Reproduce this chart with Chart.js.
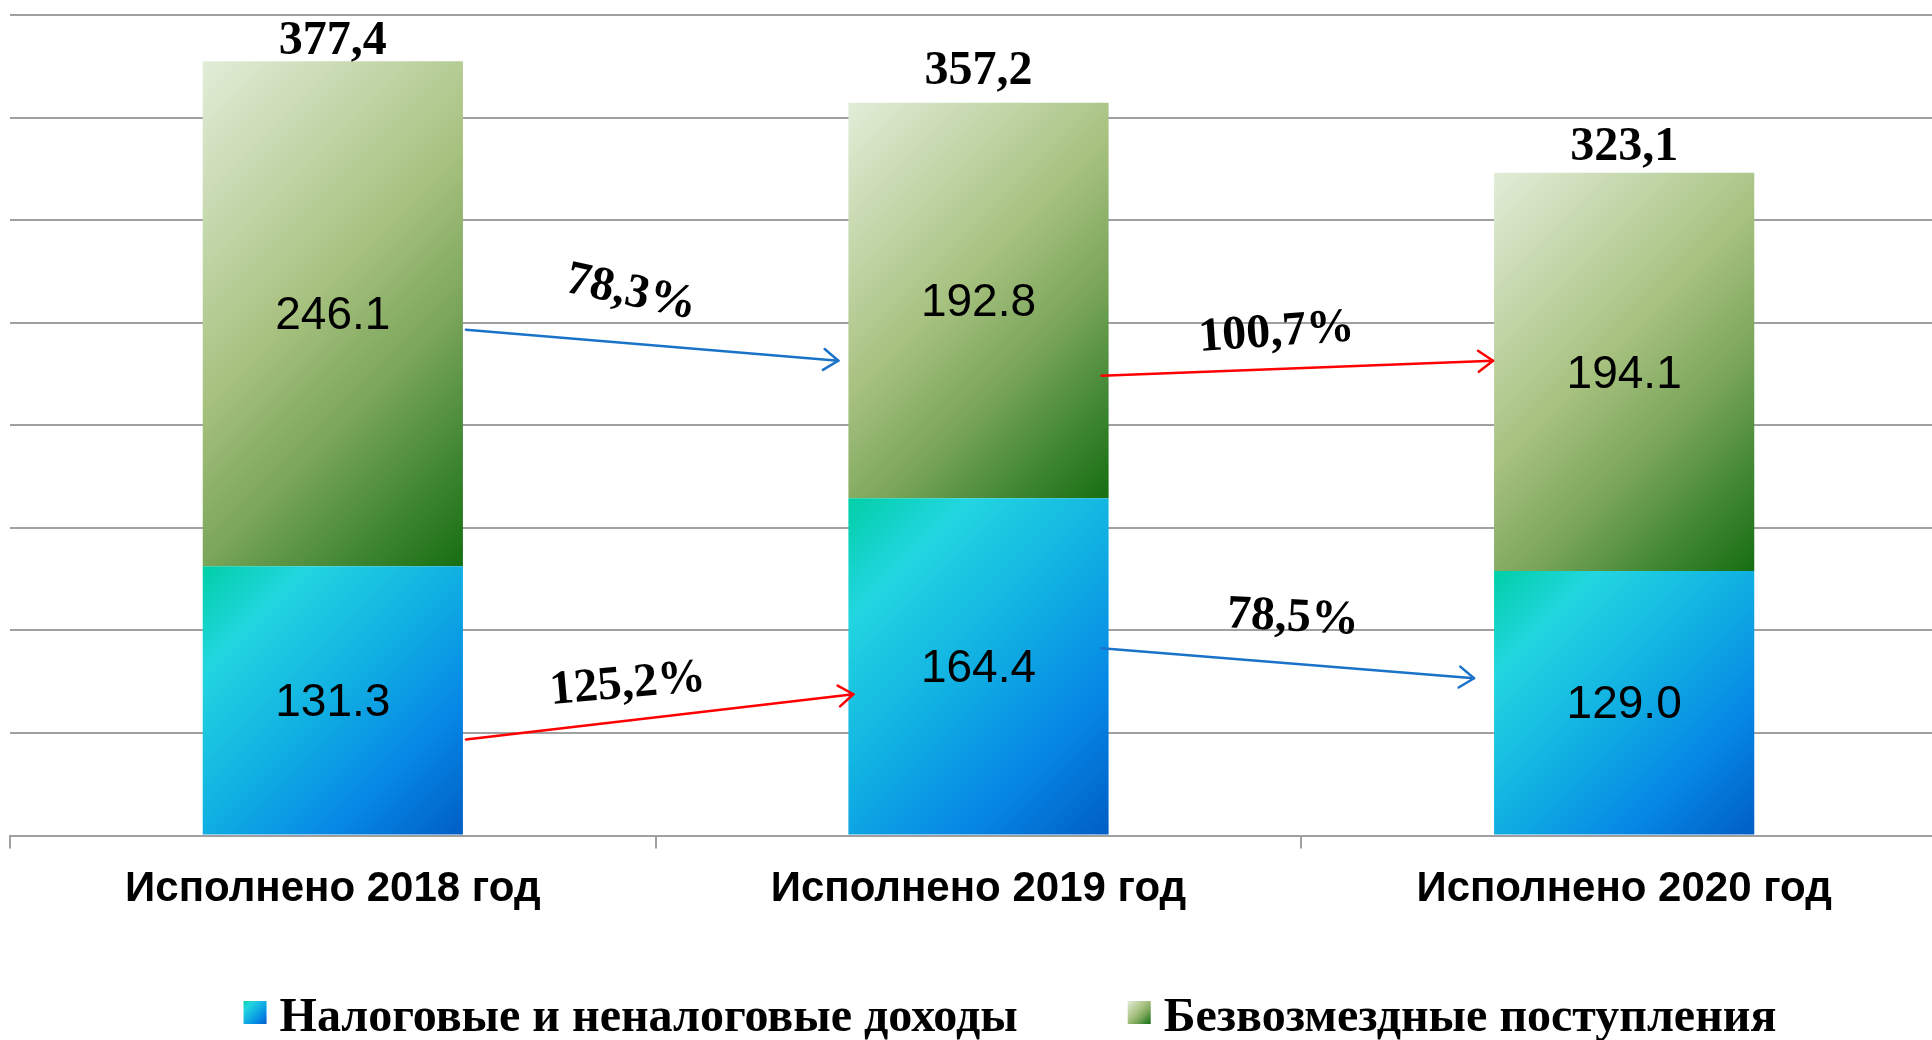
<!DOCTYPE html>
<html>
<head>
<meta charset="utf-8">
<script src="https://cdn.jsdelivr.net/npm/chart.js@4.4.1/dist/chart.umd.min.js"></script>
<style>
  html, body { margin: 0; padding: 0; background: #ffffff; overflow: hidden; }
  #wrap { width: 1947px; height: 1040px; position: relative; }
</style>
</head>
<body>
<div id="wrap"><canvas id="chart"></canvas></div>
<script>
// ---------------- DATA ----------------
const categories = ['Исполнено 2018 год', 'Исполнено 2019 год', 'Исполнено 2020 год'];
const seriesNames = ['Налоговые и неналоговые доходы', 'Безвозмездные поступления'];
const taxRevenue = [131.3, 164.4, 129.0];
const grants = [246.1, 192.8, 194.1];
const totals = [377.4, 357.2, 323.1];
const yMax = 400;
const yStep = 50;
// growth arrows between bars: label, starting bar, value at start, value at end
const growthLabels = ['78,3%', '100,7%', '125,2%', '78,5%'];
const growthFromBar = [0, 1, 0, 1];
const growthFromValue = [246.6, 224.2, 46.9, 91.3];
const growthToValue = [231.5, 231.5, 68.9, 76.7];

// ---------------- STYLE ----------------
const barPct = 0.403;
const blueStops = [[0, '#00cfa6'], [0.2, '#22d6e0'], [0.5, '#10aee2'], [0.75, '#0687e6'], [1, '#005ec4']];
const greenStops = [[0, '#e2edd8'], [0.45, '#a7c17f'], [0.66, '#7aa55a'], [0.85, '#3f8632'], [1, '#166e12']];
const growthColor = ['#1a73c9', '#ff0000', '#ff0000', '#1a73c9'];
const growthStartDx = [3, -7, 3, -7];
const growthEndDx = [-10, -1, 5, -20];
const growthLabelDx = [-21, -21, -32, 5];
const growthLabelDy = [-52, -35, -32, -45];
const growthLabelRot = [12, -4, -5, 3];
const totalGap = [7, 19, 13];
const gridColor = '#a0a0a0';

const seriesData = [taxRevenue, grants];
const seriesStops = [blueStops, greenStops];

function makeGradient(c, l, t, w, h, stops) {
  const d = (w + h) / 2;
  const g = c.createLinearGradient(l, t, l + d, t + d);
  stops.forEach(s => g.addColorStop(s[0], s[1]));
  return g;
}

function segmentFill(ctx) {
  const chart = ctx.chart;
  const ds = ctx.datasetIndex;
  const i = ctx.dataIndex;
  const fallback = ds === 0 ? '#10aee2' : '#a7c17f';
  if (!chart.chartArea || i === undefined) return fallback;
  const xs = chart.scales.x, ys = chart.scales.y;
  if (!xs || !ys) return fallback;
  const cx = xs.getPixelForValue(i);
  const w = (xs.getPixelForValue(1) - xs.getPixelForValue(0)) * barPct;
  let base = 0;
  for (let d = 0; d < ds; d++) base += seriesData[d][i];
  const topV = base + seriesData[ds][i];
  const t = ys.getPixelForValue(topV), b = ys.getPixelForValue(base);
  return makeGradient(chart.ctx, cx - w / 2, t, w, b - t, seriesStops[ds]);
}

const labelsPlugin = {
  id: 'labelsPlugin',
  afterDatasetsDraw(chart) {
    const c = chart.ctx;
    c.save();
    // segment values
    c.fillStyle = '#000';
    c.textAlign = 'center';
    c.textBaseline = 'middle';
    c.font = '46px "Liberation Sans", Arial, sans-serif';
    chart.data.datasets.forEach((ds, di) => {
      const meta = chart.getDatasetMeta(di);
      meta.data.forEach((el, i) => {
        const mid = (el.y + el.base) / 2 + 3;
        c.fillText(seriesData[di][i].toFixed(1), el.x, mid);
      });
    });
    // totals
    c.font = 'bold 48px "Liberation Serif", "Times New Roman", serif';
    c.textBaseline = 'alphabetic';
    const topMeta = chart.getDatasetMeta(chart.data.datasets.length - 1);
    topMeta.data.forEach((el, i) => {
      c.fillText(totals[i].toFixed(1).replace('.', ','), el.x, el.y - totalGap[i]);
    });
    // growth arrows
    const ys = chart.scales.y;
    const meta0 = chart.getDatasetMeta(0);
    growthLabels.forEach((txt, k) => {
      const a = meta0.data[growthFromBar[k]];
      const b = meta0.data[growthFromBar[k] + 1];
      const x1 = a.x + a.width / 2 + growthStartDx[k];
      const x2 = b.x - b.width / 2 + growthEndDx[k];
      const y1 = ys.getPixelForValue(growthFromValue[k]);
      const y2 = ys.getPixelForValue(growthToValue[k]);
      c.strokeStyle = growthColor[k];
      c.lineWidth = 2.5;
      c.lineCap = 'round';
      c.lineJoin = 'round';
      c.beginPath();
      c.moveTo(x1, y1);
      c.lineTo(x2, y2);
      c.stroke();
      const ang = Math.atan2(y2 - y1, x2 - x1);
      const L = 18, sp = 0.62;
      c.beginPath();
      c.moveTo(x2 - L * Math.cos(ang - sp), y2 - L * Math.sin(ang - sp));
      c.lineTo(x2, y2);
      c.lineTo(x2 - L * Math.cos(ang + sp), y2 - L * Math.sin(ang + sp));
      c.stroke();
      // label
      const mx = (x1 + x2) / 2 + growthLabelDx[k];
      const my = (y1 + y2) / 2 + growthLabelDy[k];
      c.save();
      c.translate(mx, my);
      c.rotate(growthLabelRot[k] * Math.PI / 180);
      c.fillStyle = '#000';
      c.font = 'bold 48px "Liberation Serif", "Times New Roman", serif';
      c.textAlign = 'center';
      c.textBaseline = 'middle';
      c.fillText(txt, 0, 0);
      c.restore();
    });
    c.restore();
  }
};

const legendPlugin = {
  id: 'bottomLegend',
  afterDraw(chart, args, opts) {
    const c = chart.ctx;
    c.save();
    c.font = opts.font;
    const items = chart.data.datasets.map((d, i) => ({ text: d.label, w: c.measureText(d.label).width, stops: seriesStops[i] }));
    const total = items.reduce((s, it) => s + opts.box + opts.textGap + it.w, 0) + opts.itemGap * (items.length - 1);
    let x = chart.width / 2 + opts.shift - total / 2;
    items.forEach(it => {
      const t = opts.baseline - opts.boxRise;
      c.fillStyle = makeGradient(c, x, t, opts.box, opts.box, it.stops);
      c.fillRect(x, t, opts.box, opts.box);
      c.fillStyle = '#000';
      c.textAlign = 'left';
      c.textBaseline = 'alphabetic';
      c.fillText(it.text, x + opts.box + opts.textGap, opts.baseline);
      x += opts.box + opts.textGap + it.w + opts.itemGap;
    });
    c.restore();
  }
};

new Chart(document.getElementById('chart'), {
  type: 'bar',
  data: {
    labels: categories,
    datasets: [
      { label: seriesNames[0], data: taxRevenue, backgroundColor: segmentFill, borderWidth: 0 },
      { label: seriesNames[1], data: grants, backgroundColor: segmentFill, borderWidth: 0 }
    ]
  },
  options: {
    responsive: true,
    maintainAspectRatio: false,
    animation: false,
    devicePixelRatio: 1,
    layout: { padding: { top: 15, left: 10, right: 0, bottom: 109 } },
    datasets: { bar: { barPercentage: barPct, categoryPercentage: 1 } },
    plugins: {
      legend: { display: false },
      tooltip: { enabled: false },
      bottomLegend: {
        font: 'bold 48px "Liberation Serif", "Times New Roman", serif',
        box: 23, textGap: 13, itemGap: 110, baseline: 1031, boxRise: 30, shift: 36.5
      }
    },
    scales: {
      x: {
        stacked: true,
        grid: { display: true, drawOnChartArea: false, drawTicks: true, tickLength: 13, color: gridColor, lineWidth: 2, offset: true },
        border: { display: true, color: gridColor, width: 2 },
        ticks: {
          color: '#000', padding: 16, maxRotation: 0, autoSkip: false,
          font: { family: '"Liberation Sans", Arial, sans-serif', size: 42, weight: 'bold' }
        }
      },
      y: {
        stacked: true,
        min: 0, max: yMax,
        ticks: { display: false, stepSize: yStep },
        grid: { color: gridColor, lineWidth: 2, drawTicks: false },
        border: { display: false }
      }
    }
  },
  plugins: [labelsPlugin, legendPlugin]
});
</script>
</body>
</html>
